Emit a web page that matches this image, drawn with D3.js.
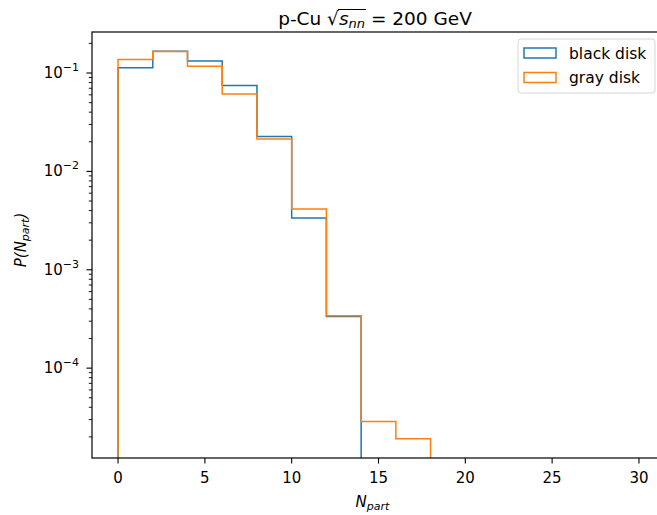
<!DOCTYPE html>
<html>
<head>
<meta charset="utf-8">
<script src="https://cdn.jsdelivr.net/npm/d3@7/dist/d3.min.js"></script>
<style>
  body { margin: 0; background: #fff; }
  text { font-family: "DejaVu Sans", sans-serif; fill: #000; }
</style>
</head>
<body>
<div id="chart"></div>
<script>
// data (density per bin, bins of width 2)
const binEdges = [0, 2, 4, 6, 8, 10, 12, 14, 16, 18, 20, 22, 24, 26, 28, 30];
const blackDisk = [0.113, 0.166, 0.1325, 0.0748, 0.0226, 0.00336, 0.000335, 0, 0, 0, 0, 0, 0, 0, 0];
const grayDisk = [0.137, 0.165, 0.117, 0.0611, 0.0213, 0.00415, 0.00034, 0.0000286, 0.0000192, 0, 0, 0, 0, 0, 0];
const seriesNames = ["black disk", "gray disk"];
const seriesColors = ["#1f77b4", "#ff7f0e"];
const xTicks = [0, 5, 10, 15, 20, 25, 30];
const yTickExps = [-4, -3, -2, -1];

// Dimensions
const W = 657, H = 515;
const margin = {left: 92, top: 32};
const width = 573, height = 426;

// Scales (matplotlib style 5% margins)
const xPad = (binEdges[binEdges.length - 1] - binEdges[0]) * 0.05;
const x = d3.scaleLinear()
    .domain([binEdges[0] - xPad, binEdges[binEdges.length - 1] + xPad])
    .range([0, width]);

const positives = blackDisk.concat(grayDisk).filter(v => v > 0);
const lmin = Math.log10(d3.min(positives)), lmax = Math.log10(d3.max(positives));
const lpad = (lmax - lmin) * 0.05;
const y = d3.scaleLog()
    .domain([Math.pow(10, lmin - lpad), Math.pow(10, lmax + lpad)])
    .range([height, 0]);

const svg = d3.select("#chart").append("svg")
    .attr("width", W)
    .attr("height", H);

svg.append("defs").append("clipPath").attr("id", "plotclip")
  .append("rect").attr("width", width).attr("height", height);

const g = svg.append("g")
    .attr("transform", `translate(${margin.left},${margin.top})`);

// histogram outlines (step)
function stepPath(values) {
  const floor = height + 20;
  const yy = v => v > 0 ? y(v) : floor;
  let pts = [[x(binEdges[0]), floor]];
  values.forEach((v, i) => {
    pts.push([x(binEdges[i]), yy(v)]);
    pts.push([x(binEdges[i + 1]), yy(v)]);
  });
  pts.push([x(binEdges[binEdges.length - 1]), floor]);
  return d3.line()(pts);
}

const plot = g.append("g").attr("clip-path", "url(#plotclip)");
[blackDisk, grayDisk].forEach((vals, i) => {
  plot.append("path")
      .attr("d", stepPath(vals))
      .attr("fill", "none")
      .attr("stroke", seriesColors[i])
      .attr("stroke-width", 1.5)
      .attr("stroke-linejoin", "miter");
});

// Spines
g.append("rect")
    .attr("width", width).attr("height", height)
    .attr("fill", "none").attr("stroke", "#000").attr("stroke-width", 1.2);

// x axis
const xAxis = g.append("g").attr("transform", `translate(0,${height})`);
xTicks.forEach(t => {
  xAxis.append("line").attr("x1", x(t)).attr("x2", x(t))
      .attr("y1", 0).attr("y2", 5.6).attr("stroke", "#000").attr("stroke-width", 1.1);
  xAxis.append("text").attr("x", x(t)).attr("y", 25)
      .attr("text-anchor", "middle").style("font-size", "15px").text(t);
});

// y axis, major
const yAxis = g.append("g");
yTickExps.forEach(e => {
  const yy = y(Math.pow(10, e));
  yAxis.append("line").attr("x1", -5.6).attr("x2", 0)
      .attr("y1", yy).attr("y2", yy).attr("stroke", "#000").attr("stroke-width", 1.1);
  const t = yAxis.append("text").attr("x", -13).attr("y", yy + 5)
      .attr("text-anchor", "end").style("font-size", "15px");
  t.append("tspan").text("10");
  t.append("tspan").attr("dy", -7).style("font-size", "11px").text("\u2212" + (-e));
});
// y axis, minor
const [d0, d1] = y.domain();
for (let e = Math.floor(Math.log10(d0)); e <= Math.ceil(Math.log10(d1)); e++) {
  for (let m = 2; m <= 9; m++) {
    const v = m * Math.pow(10, e);
    if (v < d0 || v > d1) continue;
    yAxis.append("line").attr("x1", -3.2).attr("x2", 0)
        .attr("y1", y(v)).attr("y2", y(v)).attr("stroke", "#000").attr("stroke-width", 0.9);
  }
}

// axis labels
const xl = svg.append("text")
    .attr("x", margin.left + width / 2 - 6).attr("y", 507)
    .attr("text-anchor", "middle").style("font-size", "15px").style("font-style", "italic");
xl.append("tspan").text("N");
xl.append("tspan").attr("dy", 3).style("font-size", "11px").text("part");

const yl = svg.append("text")
    .attr("transform", `translate(26,${margin.top + height / 2 - 5}) rotate(-90)`)
    .attr("text-anchor", "middle").style("font-size", "15px").style("font-style", "italic");
yl.append("tspan").text("P(N");
yl.append("tspan").attr("dy", 3).style("font-size", "11px").text("part");
yl.append("tspan").attr("dy", -3).text(")");

// title
const title = svg.append("text")
    .attr("x", 375).attr("y", 25)
    .attr("text-anchor", "middle").style("font-size", "18.5px");
title.append("tspan").text("p-Cu ");
title.append("tspan").text("\u221A");
title.append("tspan").style("font-style", "italic").text("s");
title.append("tspan").attr("dy", 3).style("font-style", "italic").style("font-size", "13px").text("nn");
title.append("tspan").attr("dy", -3).text(" = 200 GeV");
// overline of the radical
{
  const node = title.node();
  const radEnd = node.getEndPositionOfChar(5);
  const nnEnd = node.getEndPositionOfChar(8);
  svg.append("line")
      .attr("x1", radEnd.x - 1).attr("x2", nnEnd.x + 1)
      .attr("y1", 25 - 15.5).attr("y2", 25 - 15.5)
      .attr("stroke", "#000").attr("stroke-width", 1);
}

// legend
const lg = svg.append("g").attr("transform", "translate(518,39)");
lg.append("rect").attr("width", 137).attr("height", 54).attr("rx", 3)
    .attr("fill", "#fff").attr("fill-opacity", 0.8)
    .attr("stroke", "#d6d6d6").attr("stroke-width", 1);
seriesNames.forEach((name, i) => {
  const cy = 14 + i * 24.5;
  lg.append("rect").attr("x", 6).attr("y", cy - 5).attr("width", 32).attr("height", 10)
      .attr("fill", "none").attr("stroke", seriesColors[i]).attr("stroke-width", 1.5);
  lg.append("text").attr("x", 51).attr("y", cy + 5.5)
      .style("font-size", "15.5px").text(name);
});
</script>
</body>
</html>
